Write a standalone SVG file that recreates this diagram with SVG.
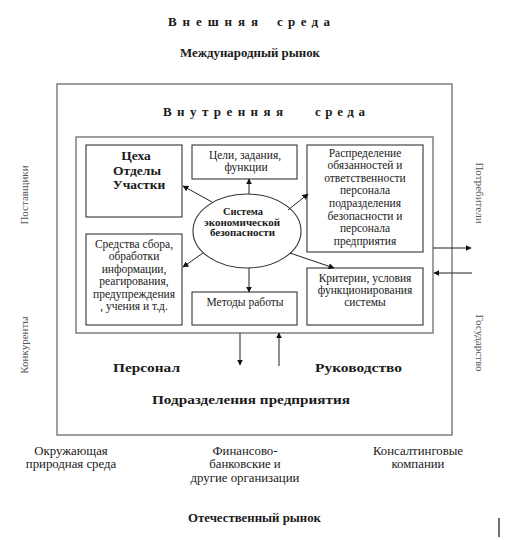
<svg xmlns="http://www.w3.org/2000/svg" width="508" height="540" viewBox="0 0 508 540">
<style>
text{font-family:"Liberation Serif","Times New Roman",serif;fill:#1a1a1a}
.t{font-size:11.5px;text-anchor:middle}
.o{font-size:12.8px;text-anchor:middle}
.b{font-weight:bold}
.h{font-size:13px;font-weight:bold}
.side{font-size:11px;fill:#555;text-anchor:middle}
.frame{fill:none;stroke:#777;stroke-width:1.4}
.box{fill:#fff;stroke:#333;stroke-width:1.1}
.ln{stroke:#222;stroke-width:1;fill:none}
</style>
<defs>
<marker id="ah" viewBox="0 0 10 10" refX="9" refY="5" markerWidth="6" markerHeight="6" orient="auto" markerUnits="userSpaceOnUse">
<path d="M0,0 L10,5 L0,10 z" fill="#111"/>
</marker>
</defs>
<rect width="508" height="540" fill="#fff"/>

<g id="external">
<text class="h" x="168" y="26" textLength="90" lengthAdjust="spacing">Внешняя</text>
<text class="h" x="277" y="26" textLength="53" lengthAdjust="spacing">среда</text>
<text class="b" x="180" y="57" font-size="11.5" textLength="140" lengthAdjust="spacingAndGlyphs">Международный рынок</text>
<text class="side" transform="translate(28,195) rotate(-90)">Поставщики</text>
<text class="side" transform="translate(28,345) rotate(-90)">Конкуренты</text>
<text class="side" transform="translate(476,193) rotate(90)">Потребители</text>
<text class="side" transform="translate(476,343) rotate(90)">Государство</text>
<text class="o" x="71" y="455">Окружающая</text>
<text class="o" x="71" y="468">природная среда</text>
<text class="o" x="245" y="455">Финансово-</text>
<text class="o" x="245" y="468">банковские и</text>
<text class="o" x="245" y="482">другие организации</text>
<text class="o" x="418" y="455">Консалтинговые</text>
<text class="o" x="418" y="468">компании</text>
<text class="b" x="188" y="522" font-size="11.5" textLength="133" lengthAdjust="spacingAndGlyphs">Отечественный рынок</text>
<line x1="499" y1="518" x2="499" y2="537" stroke="#111" stroke-width="1.2"/>
</g>

<g id="enterprise">
<rect class="frame" x="57" y="84" width="395" height="351"/>
<text class="h" x="163" y="116" textLength="120" lengthAdjust="spacing">Внутренняя</text>
<text class="h" x="315" y="116" textLength="50" lengthAdjust="spacing">среда</text>
<text class="b" x="113" y="372" font-size="13.5" textLength="67" lengthAdjust="spacingAndGlyphs">Персонал</text>
<text class="b" x="315" y="372" font-size="13.5" textLength="87" lengthAdjust="spacingAndGlyphs">Руководство</text>
<text class="b" x="152" y="404" font-size="13.5" textLength="198" lengthAdjust="spacingAndGlyphs">Подразделения предприятия</text>
</g>

<g id="internal">
<rect class="frame" x="76" y="137" width="357" height="196"/>
</g>

<g id="n-ceha">
<rect class="box" x="86" y="145" width="96" height="72"/>
<text class="b" x="136" y="160" font-size="13.5" text-anchor="middle">Цеха</text>
<text class="b" x="137" y="175" font-size="13.5" text-anchor="middle">Отделы</text>
<text class="b" x="139" y="189" font-size="13.5" text-anchor="middle">Участки</text>
</g>

<g id="n-celi">
<rect class="box" x="192" y="145" width="105" height="34"/>
<text class="t" x="245" y="159">Цели, задания,</text>
<text class="t" x="246" y="171">функции</text>
</g>

<g id="n-raspr">
<rect class="box" x="307" y="145" width="116" height="107"/>
<text class="t" x="365" y="157">Распределение</text>
<text class="t" x="365" y="169">обязанностей и</text>
<text class="t" x="365" y="182">ответственности</text>
<text class="t" x="365" y="194">персонала</text>
<text class="t" x="365" y="207">подразделения</text>
<text class="t" x="365" y="220">безопасности и</text>
<text class="t" x="365" y="232">персонала</text>
<text class="t" x="365" y="245">предприятия</text>
</g>

<g id="n-system">
<ellipse class="box" cx="247" cy="231" rx="54" ry="37"/>
<text class="b" x="223" y="215" font-size="10" textLength="40" lengthAdjust="spacingAndGlyphs">Система</text>
<text class="b" x="204" y="226" font-size="10" textLength="76" lengthAdjust="spacingAndGlyphs">экономической</text>
<text class="b" x="210" y="236" font-size="10" textLength="65" lengthAdjust="spacingAndGlyphs">безопасности</text>
</g>

<g id="n-sredstva">
<rect class="box" x="86" y="234" width="96" height="91"/>
<text class="t" x="134" y="248">Средства сбора,</text>
<text class="t" x="134" y="260">обработки</text>
<text class="t" x="134" y="273">информации,</text>
<text class="t" x="134" y="285">реагирования,</text>
<text class="t" x="134" y="298">предупреждения</text>
<text class="t" x="134" y="310">, учения и т.д.</text>
</g>

<g id="n-metody">
<rect class="box" x="192" y="292" width="105" height="33"/>
<text class="t" x="245" y="306" font-size="13">Методы работы</text>
</g>

<g id="n-kriterii">
<rect class="box" x="307" y="268" width="116" height="57"/>
<text class="t" x="365" y="282">Критерии,  условия</text>
<text class="t" x="365" y="294">функционирования</text>
<text class="t" x="365" y="306">системы</text>
</g>

<g id="connectors">
<line class="ln" x1="212" y1="202" x2="183" y2="186" marker-end="url(#ah)"/>
<line class="ln" x1="249" y1="194" x2="249" y2="179" marker-end="url(#ah)"/>
<line class="ln" x1="288" y1="210" x2="308" y2="194" marker-end="url(#ah)"/>
<line class="ln" x1="203" y1="253" x2="183" y2="267" marker-end="url(#ah)"/>
<line class="ln" x1="249" y1="268" x2="249" y2="292" marker-end="url(#ah)"/>
<line class="ln" x1="290" y1="253" x2="334" y2="268" marker-end="url(#ah)"/>
<line class="ln" x1="240" y1="333" x2="240" y2="365" marker-end="url(#ah)"/>
<line class="ln" x1="279" y1="366" x2="279" y2="333" marker-end="url(#ah)"/>
<line class="ln" x1="433" y1="248" x2="471" y2="248" marker-end="url(#ah)"/>
<line class="ln" x1="472" y1="273" x2="434" y2="273" marker-end="url(#ah)"/>
</g>
</svg>
